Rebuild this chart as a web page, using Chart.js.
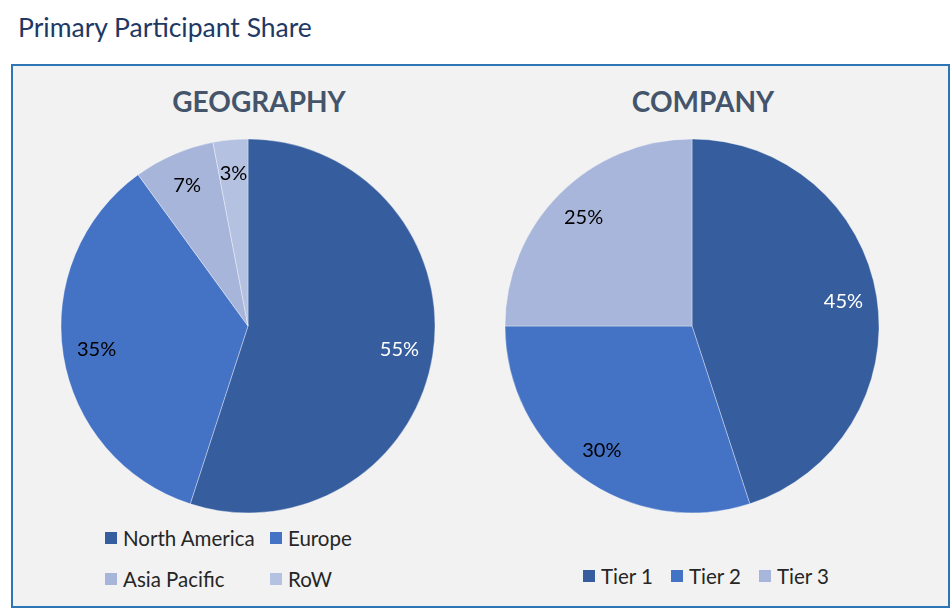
<!DOCTYPE html>
<html>
<head>
<meta charset="utf-8">
<script src="https://cdn.jsdelivr.net/npm/chart.js@4/dist/chart.umd.min.js"></script>
<style>
  html, body { margin: 0; padding: 0; background: #fff; }
  body { width: 952px; height: 610px; position: relative; overflow: hidden; font-family: Lato, "Open Sans", sans-serif; }
  .page-title { position: absolute; left: 18px; top: 11px; font-size: 26.5px; color: #203864; }
  .panel { position: absolute; left: 11px; top: 64px; width: 935px; height: 540px; border: 2px solid #2E75B6; background: #F2F2F2; }
  .pie-title { position: absolute; top: 84px; width: 400px; text-align: center; font-size: 28px; font-weight: bold; color: #44546A; }
  .pie-wrap { position: absolute; width: 400px; height: 400px; }
  .legend { position: absolute; font-size: 20.5px; color: #262626; }
  .legend .item { display: inline-flex; align-items: center; white-space: nowrap; }
  .legend .box { width: 12px; height: 12px; margin-right: 6px; }
  .legend--grid { display: grid; grid-template-columns: 165px auto; row-gap: 17px; }
  .legend--row .item { margin-right: 18px; }
</style>
</head>
<body>
<div class="page-title">Primary Participant Share</div>
<div class="panel"></div>

<div class="pie-title" style="left:59px">GEOGRAPHY</div>
<div class="pie-title" style="left:503px">COMPANY</div>

<div class="pie-wrap" style="left:48px; top:126px"><canvas id="chart-geo" width="400" height="400"></canvas></div>
<div class="pie-wrap" style="left:492px; top:126px"><canvas id="chart-company" width="400" height="400"></canvas></div>

<div class="legend legend--grid" id="legend-geo" style="left:105px; top:526px"></div>
<div class="legend legend--row" id="legend-company" style="left:583px; top:562px"></div>

<script>
// ── data ────────────────────────────────────────────────────────────────────
const geoLabels = ['North America', 'Europe', 'Asia Pacific', 'RoW'];
const geoValues = [55, 35, 7, 3];
const geoColors = ['#365E9F', '#4472C4', '#A7B5DA', '#B4C1E0'];
const geoLabelColors = ['#ffffff', '#000000', '#000000', '#000000'];

const companyLabels = ['Tier 1', 'Tier 2', 'Tier 3'];
const companyValues = [45, 30, 25];
const companyColors = ['#365E9F', '#4472C4', '#A9B6DB'];
const companyLabelColors = ['#ffffff', '#000000', '#000000'];

// Draws "NN%" inside each slice, along the slice's middle angle.
const sliceLabels = {
  id: 'sliceLabels',
  afterDatasetsDraw(chart, args, opts) {
    const { ctx } = chart;
    const meta = chart.getDatasetMeta(0);
    const data = chart.data.datasets[0].data;
    ctx.save();
    ctx.font = '20px Lato, "Open Sans", sans-serif';
    ctx.textAlign = 'center';
    ctx.textBaseline = 'middle';
    meta.data.forEach((arc, i) => {
      const { x, y, startAngle, endAngle, outerRadius } = arc.getProps(['x', 'y', 'startAngle', 'endAngle', 'outerRadius'], true);
      const mid = (startAngle + endAngle) / 2;
      const r = outerRadius * opts.radiusRatio;
      ctx.fillStyle = opts.colors[i];
      ctx.fillText(`${data[i]}%`, x + Math.cos(mid) * r, y + Math.sin(mid) * r);
    });
    ctx.restore();
  },
};

function drawPie(id, labels, values, colors, labelColors) {
  new Chart(document.getElementById(id), {
    type: 'pie',
    data: {
      labels,
      datasets: [{
        data: values,
        backgroundColor: colors,
        borderColor: 'rgba(255,255,255,0.35)',
        borderWidth: 1,
      }],
    },
    options: {
      responsive: false,
      animation: false,
      radius: 187,
      layout: { padding: 0 },
      plugins: {
        legend: { display: false },
        tooltip: { enabled: false },
        sliceLabels: { radiusRatio: 0.82, colors: labelColors },
      },
    },
    plugins: [sliceLabels],
  });
}

function buildLegend(id, labels, colors) {
  const el = document.getElementById(id);
  el.innerHTML = labels
    .map((l, i) => `<span class="item"><span class="box" style="background:${colors[i]}"></span>${l}</span>`)
    .join('');
}

drawPie('chart-geo', geoLabels, geoValues, geoColors, geoLabelColors);
drawPie('chart-company', companyLabels, companyValues, companyColors, companyLabelColors);
buildLegend('legend-geo', geoLabels, geoColors);
buildLegend('legend-company', companyLabels, companyColors);
</script>
</body>
</html>
